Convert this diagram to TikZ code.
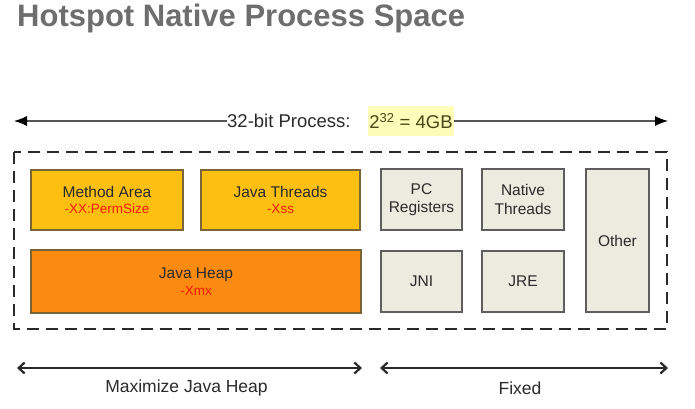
\documentclass[tikz,border=0pt]{standalone}
\usepackage{fontspec}
\setmainfont{Liberation Sans}
\usetikzlibrary{arrows.meta}
\definecolor{titlegray}{HTML}{6E6E6E}
\definecolor{yfill}{HTML}{FEC010}
\definecolor{ofill}{HTML}{FB8A10}
\definecolor{gfill}{HTML}{EBEBE0}
\definecolor{cborder}{HTML}{7A6535}
\definecolor{gborder}{HTML}{5E5E5E}
\definecolor{hlfill}{HTML}{FDFCB8}
\definecolor{hltext}{HTML}{4A4815}
\definecolor{subred}{HTML}{F41A0A}
\definecolor{txt}{HTML}{2A2A2A}
\definecolor{lgray}{HTML}{555555}
\newcommand{\subline}[1]{{\color{subred}\fontsize{13.5}{15}\selectfont #1}}
\begin{document}
\begin{tikzpicture}[x=1pt,y=-1pt,
  boxbase/.style={rectangle, line width=1.1pt, align=center, inner sep=0pt,
    text=txt, font=\fontsize{15.5}{18.5}\selectfont},
  ybox/.style={boxbase, fill=yfill, draw=cborder},
  obox/.style={boxbase, fill=ofill, draw=cborder},
  gbox/.style={boxbase, fill=gfill, draw=gborder},
  toparrow/.style={draw=lgray, line width=1.1pt, -{Latex[length=13pt,width=10pt,color=black]}},
  botarrow/.style={draw=txt, line width=2.2pt, {Straight Barb[length=6pt,width=11pt,line width=2.2pt]}-{Straight Barb[length=6pt,width=11pt,line width=2.2pt]}},
  lbl/.style={text=txt, font=\fontsize{18.5}{22}\selectfont, inner sep=0pt}
]
\useasboundingbox (0,0) rectangle (695,408);

% title
\node[anchor=base west, inner sep=0pt, text=titlegray,
  font=\fontsize{31}{36}\bfseries\selectfont] (title) at (17,26) {Hotspot Native Process Space};

% top arrow
\coordinate (tl) at (14,121);
\coordinate (tr) at (668,121);
\node[lbl, anchor=west] (proc) at (227,121) {32-bit Process:};
\node[lbl, fill=hlfill, text=hltext, minimum width=86pt, minimum height=30pt] (hl) at (411,121) {2\textsuperscript{32} = 4GB};
\draw[toparrow] (proc.west) -- (tl);
\draw[toparrow] (hl.east) -- (tr);

% dashed process box
\draw[draw=txt, line width=1.8pt, dash pattern=on 12pt off 7pt] (14,152) rectangle (667,329);

% boxes
\node[ybox, minimum width=152pt, minimum height=60pt] (method) at (107,200)
  {Method Area\\[-2pt]\subline{-XX:PermSize}};
\node[ybox, minimum width=159pt, minimum height=60pt] (threads) at (280.5,200)
  {Java Threads\\[-2pt]\subline{-Xss}};
\node[obox, minimum width=330pt, minimum height=63pt] (heap) at (196,281.5)
  {Java Heap\\[-2pt]\subline{-Xmx}};
\node[gbox, minimum width=81pt, minimum height=61pt] (pc) at (421.5,199.5)
  {PC\\Registers};
\node[gbox, minimum width=82pt, minimum height=61pt] (native) at (523,199.5)
  {Native\\Threads};
\node[gbox, minimum width=81pt, minimum height=61pt] (jni) at (421.5,281.5) {JNI};
\node[gbox, minimum width=82pt, minimum height=61pt] (jre) at (523,281.5) {JRE};
\node[gbox, minimum width=63pt, minimum height=143pt] (other) at (617.5,240.5) {Other};

% bottom arrows
\coordinate (bl1) at (17,368);
\coordinate (bl2) at (362,368);
\coordinate (br1) at (380,368);
\coordinate (br2) at (668,368);
\draw[botarrow] (bl1) -- (bl2);
\draw[botarrow] (br1) -- (br2);
\node[text=txt, font=\fontsize{17.5}{21}\selectfont, inner sep=0pt] (maxl) at (186.5,388) {Maximize Java Heap};
\node[text=txt, font=\fontsize{17.5}{21}\selectfont, inner sep=0pt] (fixl) at (520,388) {Fixed};
\end{tikzpicture}
\end{document}
